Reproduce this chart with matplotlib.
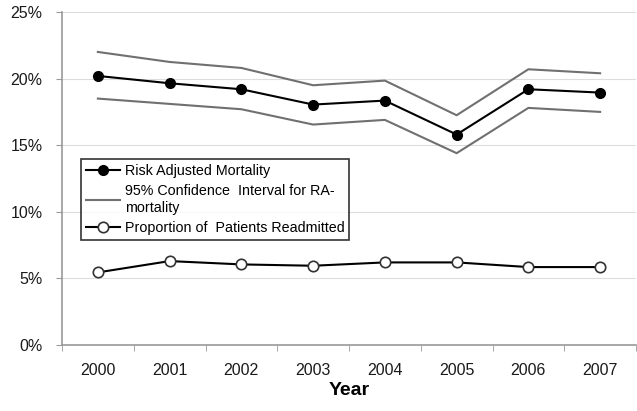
import matplotlib
matplotlib.use("Agg")
import matplotlib.pyplot as plt
from matplotlib.ticker import FixedLocator, PercentFormatter

years = ["2000", "2001", "2002", "2003", "2004", "2005", "2006", "2007"]
ra_mortality = [20.2, 19.65, 19.2, 18.05, 18.35, 15.8, 19.2, 18.95]
ci_upper = [22.0, 21.25, 20.8, 19.5, 19.85, 17.25, 20.7, 20.4]
ci_lower = [18.5, 18.1, 17.7, 16.55, 16.9, 14.4, 17.8, 17.5]
readmitted = [5.45, 6.3, 6.05, 5.95, 6.2, 6.2, 5.85, 5.85]

plt.rcParams["font.family"] = ["Liberation Sans", "DejaVu Sans"]

fig = plt.figure(figsize=(6.37, 4.11), dpi=100)
ax = fig.add_axes([62 / 637, 66 / 411, 574 / 637, 333 / 411])

x = list(range(len(years)))
ax.plot(x, ra_mortality, color="black", lw=1.5, marker="o", ms=7,
        mfc="black", mec="black", label="Risk Adjusted Mortality", zorder=4)
ax.plot(x, ci_upper, color="#707070", lw=1.5,
        label="95% Confidence  Interval for RA-\nmortality", zorder=3)
ax.plot(x, ci_lower, color="#707070", lw=1.5, zorder=3)
ax.plot(x, readmitted, color="black", lw=1.5, marker="o", ms=7.5,
        mfc="white", mec="#333333", mew=1.2,
        label="Proportion of  Patients Readmitted", zorder=4)

ax.set_xlim(-0.5, len(years) - 0.5)
ax.set_ylim(0, 25)
ax.set_yticks([0, 5, 10, 15, 20, 25])
ax.yaxis.set_major_formatter(PercentFormatter(decimals=0))
ax.set_xticks(x)
ax.set_xticklabels(years)
ax.xaxis.set_minor_locator(FixedLocator([i - 0.5 for i in range(len(years) + 1)]))
ax.tick_params(axis="x", which="major", length=0, pad=13, labelsize=11.5)
ax.tick_params(axis="x", which="minor", length=4, color="#999999", direction="out")
ax.tick_params(axis="y", length=4, color="#999999", labelsize=11.5, pad=10)
for lbl in ax.get_yticklabels() + ax.get_xticklabels():
    lbl.set_color("#1a1a1a")

ax.grid(axis="y", color="#dddddd", lw=0.8)
ax.set_axisbelow(True)
for side in ("top", "right"):
    ax.spines[side].set_visible(False)
for side in ("left", "bottom"):
    ax.spines[side].set_color("#999999")
    ax.spines[side].set_linewidth(1.2)

ax.set_xlabel("Year", fontsize=14, fontweight="bold", labelpad=3)

leg = ax.legend(loc="upper left", bbox_to_anchor=(19 / 574, 186 / 333),
                fontsize=10.3, frameon=True, fancybox=False, handlelength=2.4,
                handletextpad=0.3, borderpad=0.35, labelspacing=0.45,
                borderaxespad=0)
leg.get_frame().set_edgecolor("black")
leg.get_frame().set_linewidth(1.2)

fig.savefig("out.png", dpi=100)
